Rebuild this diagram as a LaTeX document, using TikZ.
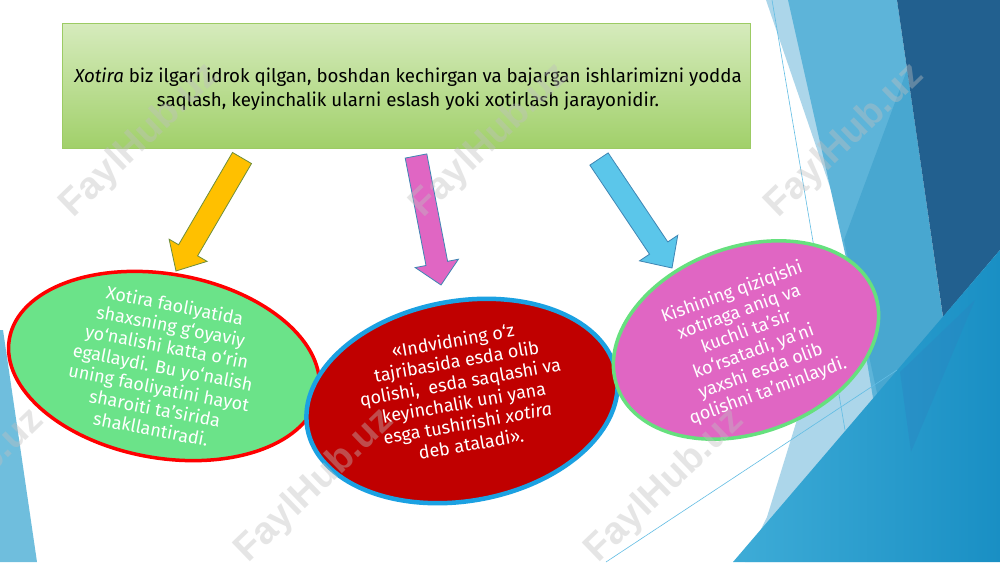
\documentclass[tikz,border=0pt]{standalone}
\usepackage{fontspec}
\setmainfont{Fira Sans}
\newfontfamily\wmfont{Liberation Sans}
\usetikzlibrary{calc,shapes.geometric}
\definecolor{rectTop}{HTML}{D6EBBD}
\definecolor{rectBot}{HTML}{A1D06A}
\definecolor{rectLine}{HTML}{9CCB64}
\definecolor{arrYel}{HTML}{FFC000}
\definecolor{arrPink}{HTML}{E066C3}
\definecolor{arrBlue}{HTML}{5BC6EA}
\definecolor{arrYelLine}{HTML}{6E8E3C}
\definecolor{arrBlueLine}{HTML}{3F86B4}
\definecolor{ellGreen}{HTML}{6BE389}
\definecolor{ellGreenLine}{HTML}{66E07E}
\definecolor{ellRed}{HTML}{C00000}
\definecolor{ellRedLine}{HTML}{FF0000}
\definecolor{ellBlueLine}{HTML}{1BA1E2}
\definecolor{ellPink}{HTML}{E066C3}
\definecolor{wedgeBlue}{HTML}{6FBEDD}
\definecolor{facetPale}{HTML}{ACD6EA}
\definecolor{facetLight}{HTML}{5DB4D9}
\definecolor{facetMid}{HTML}{48A7D0}
\definecolor{facetDark}{HTML}{22608F}
\definecolor{facetMidDark}{HTML}{2C82C0}
\definecolor{brightL}{HTML}{3EACD7}
\definecolor{brightR}{HTML}{198FC4}
\definecolor{thinBlue}{HTML}{62BDE4}
\definecolor{wmGray}{RGB}{191,191,191}
\tikzset{
  defbox/.style={rectangle, draw=rectLine, line width=0.8pt, top color=rectTop, bottom color=rectBot, minimum width=688pt, minimum height=125pt, inner sep=0pt},
  deftext/.style={align=center, text=black, font=\fontsize{18.7}{23.5}\selectfont},
  blockarrow/.style={line width=0.8pt, line join=miter},
  ellbox/.style={ellipse, inner sep=0pt},
  etext/.style={align=center, text=white, font=\fontsize{18}{21}\selectfont, inner sep=0pt},
  thinline/.style={draw=thinBlue, line width=0.6pt},
  watermark/.style={text=wmGray, opacity=0.4, font=\wmfont\bfseries\fontsize{38}{38}\selectfont, rotate=44}
}
\newcommand\drawblockarrow[6]{%
  \coordinate (#2base) at ($(#3)!#6!(#2)$);
  \draw[#1] ($(#2)!#4!90:(#3)$) -- ($(#2base)!#4!-90:(#2)$) -- ($(#2base)!#5!-90:(#2)$) -- (#3)
    -- ($(#2base)!#5!90:(#2)$) -- ($(#2base)!#4!90:(#2)$) -- ($(#2)!#4!-90:(#3)$) -- cycle;
}
\begin{document}
\begin{tikzpicture}[x=1pt,y=-1pt]
\useasboundingbox (0,0) rectangle (1000,562);
\fill[white] (0,0) rectangle (1000,562);
% left wedge
\fill[wedgeBlue] (0,330) -- (3,330) -- (37,562) -- (0,562) -- cycle;
% right facets
\fill[facetPale] (766,0) -- (792,0) -- (960,562) -- (745,562) -- (767,517) -- (800,410) -- (880,330) -- (855,260) -- cycle;
\fill[facetLight] (788,0) -- (897,0) -- (950,367) -- (880,440) -- (860,320) -- cycle;
\fill[facetMid] (907,70) -- (950,367) -- (885,430) -- (844,240) -- cycle;
\fill[facetDark] (897,0) -- (1000,0) -- (1000,250) -- (943,317) -- cycle;
\shade[left color=brightL, right color=brightR] (733,562) -- (1000,250) -- (1000,562) -- cycle;
\fill[facetMidDark, opacity=0.35] (900,372) -- (975,300) -- (911,452) -- cycle;
% thin lines
\coordinate (la) at (606,562); \coordinate (lb) at (897,370);
\coordinate (lc) at (772,0); \coordinate (ld) at (845,430);
\draw[thinline] (la) -- (lb);
\draw[thinline] (lc) -- (ld);
% definition box
\node[defbox] (def) at (406,85.5) {};
\node[deftext] (deftxt) at (408,89) {\textit{Xotira} biz ilgari idrok qilgan, boshdan kechirgan va bajargan ishlarimizni yodda\\saqlash, keyinchalik ularni eslash yoki xotirlash jarayonidir.};
% arrows
\coordinate (ya) at (242,158); \coordinate (yt) at (176,271);
\coordinate (pa) at (416,156); \coordinate (pt) at (441,285);
\coordinate (ba) at (599,159); \coordinate (bt) at (672,268);
\drawblockarrow{blockarrow, fill=arrYel, draw=arrYelLine}{ya}{yt}{11pt}{22pt}{24pt}
\drawblockarrow{blockarrow, fill=arrPink, draw=arrBlueLine}{pa}{pt}{11pt}{22pt}{22pt}
\drawblockarrow{blockarrow, fill=arrBlue, draw=arrBlueLine}{ba}{bt}{11pt}{23pt}{24pt}
% ellipses
\node[ellbox, fill=ellGreen, draw=ellRedLine, line width=3.5pt, minimum width=314pt, minimum height=184pt, rotate=-10] (e1) at (164,366) {};
\node[ellbox, fill=ellRed, draw=ellBlueLine, line width=4.5pt, minimum width=314pt, minimum height=200pt, rotate=10] (e2) at (462,401) {};
\node[ellbox, fill=ellPink, draw=ellGreenLine, line width=3.5pt, minimum width=274pt, minimum height=186pt, rotate=20] (e3) at (746,340) {};
% ellipse texts
\node[etext, rotate=-11] (t1) at (163,367) {Xotira faoliyatida\\shaxsning g‘oyaviy\\yo‘nalishi katta o‘rin\\egallaydi. Bu yo‘nalish\\uning faoliyatini hayot\\sharoiti ta’sirida\\shakllantiradi.};
\node[etext, rotate=10] (t2) at (462,392) {«Indvidning o‘z\\tajribasida esda olib\\qolishi,~ esda saqlashi va\\keyinchalik uni yana\\esga tushirishi \textit{xotira}\\deb ataladi».};
\node[etext, rotate=20] (t3) at (750,342) {Kishining qiziqishi\\xotiraga aniq va\\kuchli ta’sir\\ko‘rsatadi, ya’ni\\yaxshi esda olib\\qolishni ta’minlaydi.};
% watermarks
\node[watermark] (w1) at (140,141) {FaylHub.uz};
\node[watermark] (w2) at (490,141) {FaylHub.uz};
\node[watermark] (w3) at (845,141) {FaylHub.uz};
\node[watermark] (w4) at (-35,486) {FaylHub.uz};
\node[watermark] (w5) at (315,486) {FaylHub.uz};
\node[watermark] (w6) at (665,486) {FaylHub.uz};
\end{tikzpicture}
\end{document}
